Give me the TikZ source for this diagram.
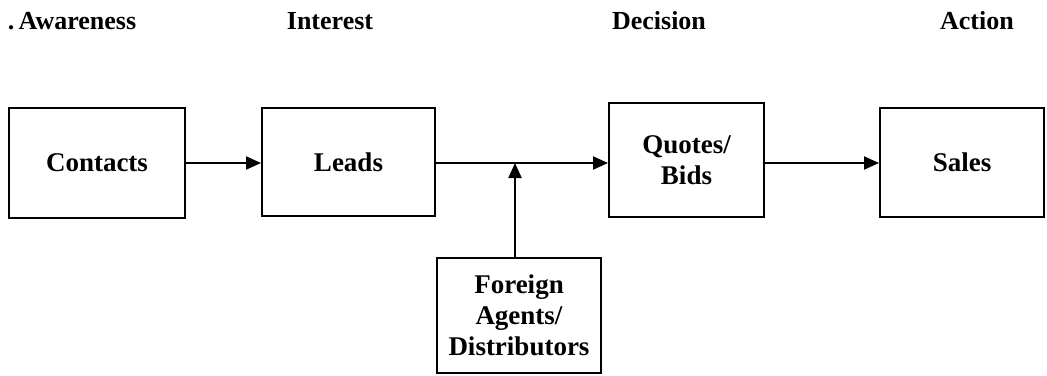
\documentclass[tikz,border=0pt]{standalone}
\usepackage{fontspec}
\setmainfont{Liberation Serif}
\usepackage{tikz}
\usetikzlibrary{arrows.meta}

\begin{document}
\begin{tikzpicture}[x=1pt,y=-1pt,
  stage/.style={draw, line width=2pt, align=center, inner sep=0pt,
    font=\fontsize{27}{31}\selectfont\bfseries},
  head/.style={font=\fontsize{26}{30}\selectfont\bfseries},
  flow/.style={line width=2pt, -{Triangle[length=15pt,width=13pt]}}]
\useasboundingbox (0,0) rectangle (1047,375);
% phase headings
\node[head] (Awareness) at (72,21) {.\,Awareness};
\node[head] (Interest) at (330,21) {Interest};
\node[head] (Decision) at (659,21) {Decision};
\node[head] (Action) at (977,21) {Action};
% boxes
\node[stage, minimum width=176pt, minimum height=110pt] (Contacts) at (97,163) {Contacts};
\node[stage, minimum width=173pt, minimum height=108pt] (Leads) at (348.5,162) {Leads};
\node[stage, minimum width=155pt, minimum height=114pt] (Quotes) at (686.5,160) {Quotes/\\Bids};
\node[stage, minimum width=164pt, minimum height=109pt] (Sales) at (962,162.5) {Sales};
\node[stage, minimum width=164pt, minimum height=115pt] (Foreign) at (519,315.5) {Foreign\\Agents/\\Distributors};
% arrows
\coordinate (Join) at (515,163);
\draw[flow] (Contacts.east) -- (Leads.west |- Contacts.east);
\draw[flow] (Leads.east |- Join) -- (Quotes.west |- Join);
\draw[flow] (Join |- Foreign.north) -- (Join);
\draw[flow] (Quotes.east |- Join) -- (Sales.west |- Join);
\end{tikzpicture}
\end{document}
